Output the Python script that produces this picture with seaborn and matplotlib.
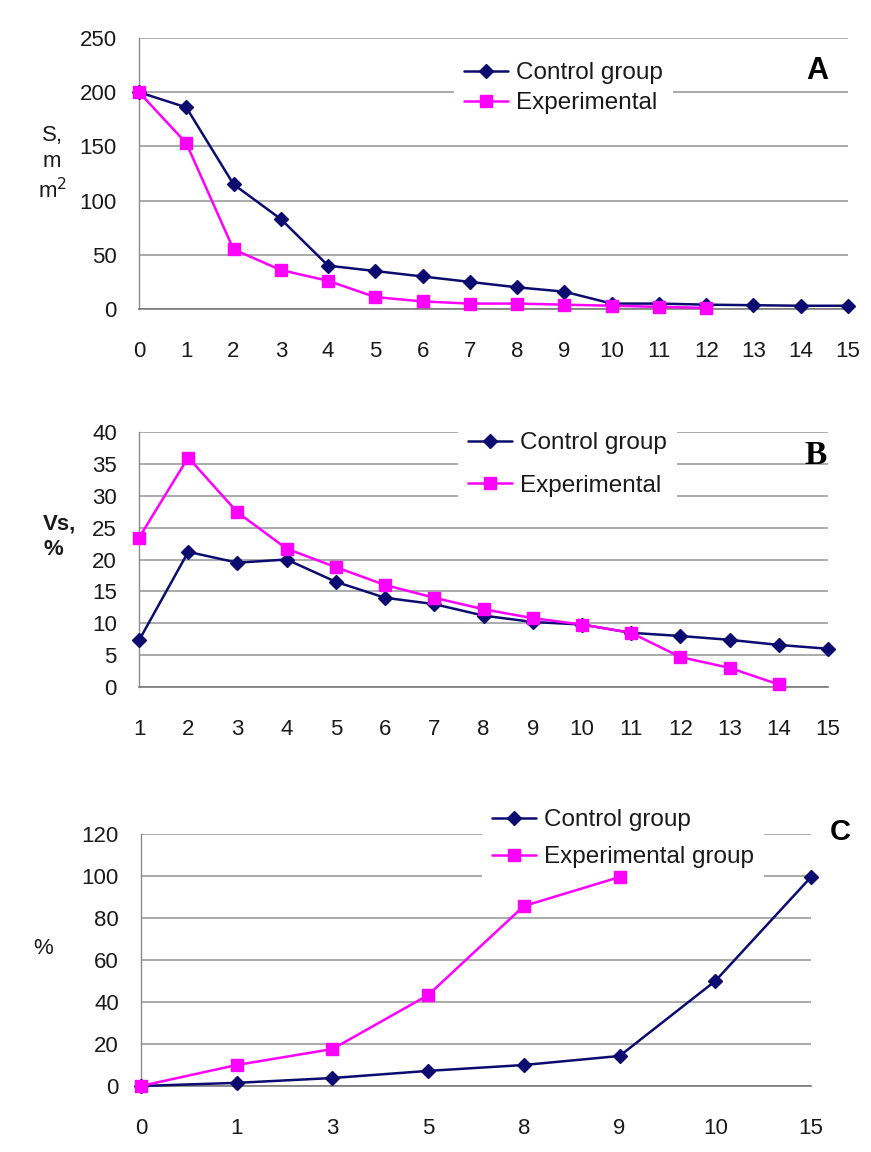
import numpy as np
import pandas as pd
import matplotlib
matplotlib.use("Agg")
import matplotlib.pyplot as plt
import seaborn as sns

# ---------------- data ----------------
a_days = list(range(0, 16))
a_control = [200, 186, 115, 83, 40, 35, 30, 25, 20, 16, 5, 5, 4, 3.5, 3, 3]
a_exp_days = list(range(0, 13))
a_exp = [200, 153, 55, 36, 26, 11, 7, 5, 5, 4, 3, 2, 1]

b_days = list(range(1, 16))
b_control = [7.3, 21.2, 19.5, 20, 16.5, 14, 13, 11.2, 10.2, 9.8, 8.5, 8, 7.4, 6.6, 6]
b_exp_days = list(range(1, 15))
b_exp = [23.4, 36, 27.4, 21.7, 18.8, 16, 14, 12.2, 10.8, 9.8, 8.5, 4.7, 3, 0.4]

c_labels = ["0", "1", "3", "5", "8", "9", "10", "15"]
c_control = [0, 1.5, 3.8, 7.2, 10, 14.3, 50, 99.5]
c_exp = [0, 10, 17.6, 43.3, 85.7, 99.5]

ctrl_name = "Control group"
exp_name_ab = "Experimental"
exp_name_c = "Experimental group"

NAVY = "#0c0c70"
MAG = "#ff00ff"
GRID = "#9c9c9c"

sns.set_theme(style="white")
plt.rcParams["font.family"] = ["Liberation Sans", "DejaVu Sans"]

W, H = 871, 1152
fig = plt.figure(figsize=(W / 100, H / 100), dpi=100)


def ax_px(l, r, t, b):
    return fig.add_axes([l / W, 1 - b / H, (r - l) / W, (b - t) / H])


def style_axis(ax, yticks, xpad=18):
    ax.set_yticks(yticks)
    ax.yaxis.grid(True, color=GRID, linewidth=1.2)
    ax.xaxis.grid(False)
    ax.set_axisbelow(True)
    for s in ["top", "right"]:
        ax.spines[s].set_visible(False)
    ax.spines["left"].set_color("#8a8a8a")
    ax.spines["bottom"].set_color("#7a7a7a")
    ax.spines["left"].set_linewidth(1.0)
    ax.spines["bottom"].set_linewidth(1.2)
    ax.tick_params(axis="y", direction="out", length=5, width=1, color="#888888",
                   labelsize=16, pad=11, labelcolor="#1a1a1a")
    ax.tick_params(axis="x", direction="inout", length=10, width=1, color="#888888",
                   labelsize=16, pad=xpad, labelcolor="#1a1a1a")
    ax.set_xlabel("")
    ax.set_ylabel("")


def draw(ax, x1, y1, x2, y2, l1, l2):
    sns.lineplot(x=x1, y=y1, ax=ax, color=NAVY, linewidth=1.8, marker="D",
                 markersize=7, markeredgecolor=NAVY, markeredgewidth=1,
                 label=l1, legend=False, clip_on=False, zorder=4)
    sns.lineplot(x=x2, y=y2, ax=ax, color=MAG, linewidth=1.8, marker="s",
                 markersize=9, markeredgecolor=MAG, markeredgewidth=1,
                 label=l2, legend=False, clip_on=False, zorder=5)


def add_legend(ax, x, y, spacing, labels):
    lines = ax.get_lines()[:2]
    fs = 17.5
    fpx = fs * 100 / 72
    bp = 0.4
    leg = ax.legend(lines, labels, loc="upper left",
                    bbox_to_anchor=((x - bp * fpx) / W, 1 - (y - bp * fpx) / H),
                    bbox_transform=fig.transFigure, fontsize=fs,
                    frameon=True, facecolor="white", edgecolor="none", framealpha=1,
                    borderpad=bp, borderaxespad=0, handlelength=1.8,
                    handletextpad=0.35, labelspacing=spacing, fancybox=False)
    leg.set_zorder(3)
    for t in leg.get_texts():
        t.set_color("#1a1a1a")
    return leg


# ---------------- Panel A ----------------
axA = ax_px(139, 848, 38, 309)
draw(axA, a_days, a_control, a_exp_days, a_exp, ctrl_name, exp_name_ab)
axA.set_xlim(0, 15)
axA.set_ylim(0, 250)
axA.set_xticks(a_days)
style_axis(axA, [0, 50, 100, 150, 200, 250])
add_legend(axA, 464, 62, 0.33, [ctrl_name, exp_name_ab])
fig.text(817 / W, 1 - 71 / H, "A", ha="center", va="center", fontsize=22,
         fontweight="bold", color="black")
fig.text(52 / W, 1 - 164 / H, "S,\nm\nm$^2$", ha="center", va="center",
         fontsize=16, linespacing=1.3, color="#1a1a1a")

# ---------------- Panel B ----------------
axB = ax_px(139, 828, 432, 687)
draw(axB, b_days, b_control, b_exp_days, b_exp, ctrl_name, exp_name_ab)
axB.set_xlim(1, 15)
axB.set_ylim(0, 40)
axB.set_xticks(b_days)
style_axis(axB, [0, 5, 10, 15, 20, 25, 30, 35, 40])
add_legend(axB, 468, 432, 0.86, [ctrl_name, exp_name_ab])
fig.text(816 / W, 1 - 456 / H, "B", ha="center", va="center", fontsize=24,
         fontweight="bold", family=["Liberation Serif", "DejaVu Serif"], color="black")
fig.text(43 / W, 1 - 537 / H, "Vs,\n%", ha="left", va="center", fontsize=16,
         fontweight="bold", linespacing=1.25, color="#1a1a1a")

# ---------------- Panel C ----------------
axC = ax_px(141, 811, 834, 1086)
xc = np.arange(len(c_control))
xe = np.arange(len(c_exp))
draw(axC, xc, c_control, xe, c_exp, ctrl_name, exp_name_c)
axC.set_xlim(0, len(c_labels) - 1)
axC.set_ylim(0, 120)
axC.set_xticks(np.arange(len(c_labels)))
axC.set_xticklabels(c_labels)
style_axis(axC, [0, 20, 40, 60, 80, 100, 120])
add_legend(axC, 492, 809, 0.63, [ctrl_name, exp_name_c])
fig.text(840 / W, 1 - 832 / H, "C", ha="center", va="center", fontsize=21,
         fontweight="bold", color="black")
fig.text(43 / W, 1 - 948 / H, "%", ha="center", va="center", fontsize=16,
         color="#1a1a1a")

fig.savefig("out.png", dpi=100, facecolor="white")
